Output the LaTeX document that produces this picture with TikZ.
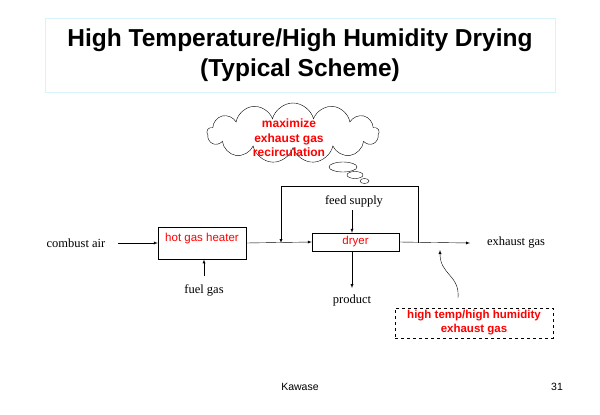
\documentclass[tikz,border=0pt]{standalone}
\usepackage{fontspec}
\setmainfont{Liberation Serif}
\setsansfont{Liberation Sans}
\usetikzlibrary{shapes.symbols}
\tikzstyle{unit} = [draw, minimum height=18pt, font=\sffamily\fontsize{11.5}{13}\selectfont, text=red]
\tikzstyle{lbl} = [font=\fontsize{12.5}{14}\selectfont]

\begin{document}
\begin{tikzpicture}[x=1pt, y=-1pt, flow/.style={-latex}]
    \useasboundingbox (0,0) rectangle (600,415);

    \node[draw=cyan!15, minimum width=510pt, minimum height=74pt, align=center,
          font=\sffamily\bfseries\fontsize{24.5}{30}\selectfont] (title) at (300,55)
          {High Temperature/High Humidity Drying\\(Typical Scheme)};

    \node[cloud, draw, cloud puffs=13, aspect=2.9, minimum width=172pt, minimum height=60pt,
          inner sep=0pt] (idea) at (293,133) {};
    \node[align=center, font=\sffamily\bfseries\fontsize{12}{14.5}\selectfont, text=red] (ideatext) at (289,138)
          {maximize\\exhaust gas\\recirculation};
    \draw (343,167) ellipse (14pt and 5pt);
    \draw (355,175) ellipse (8pt and 3.5pt);
    \draw (364.5,181) ellipse (4.5pt and 2.5pt);

    \node[lbl] (air) at (76,243) {combust air};
    \node[unit, minimum width=88pt, minimum height=32pt, anchor=north] (heater) at (202,227) {};
    \node[font=\sffamily\fontsize{11.5}{13}\selectfont, text=red] (heatertext) at (202,239) {hot gas heater};
    \node[unit, minimum width=87pt] (dryer) at (355.5,242) {dryer};
    \node[lbl] (fuel) at (204,290) {fuel gas};
    \node[lbl] (feed) at (354,201) {feed supply};
    \node[lbl] (product) at (352,300) {product};
    \node[lbl] (exhaust) at (516,243) {exhaust gas};
    \coordinate (mix) at (281,243);
    \coordinate (split) at (418,243);
    \coordinate (tail) at (470,243);

    \draw[flow] (118,243) -- (heater.west |- 0,243);
    \draw[flow] (heater.east |- 0,243) -- (dryer.west);
    \draw[flow] (204,276) -- (heater.south -| 204,0);
    \draw[flow] (352,210) -- (dryer.north -| 352,0);
    \draw[flow] (dryer.south -| 352,0) -- (352,288);
    \draw[flow] (dryer.east) -- (tail);
    \draw[flow] (split) -- (418,186) -- (281,186) -- (mix);

    \node[draw, dashed, minimum width=158pt, minimum height=30pt, align=center,
          font=\sffamily\bfseries\fontsize{11.5}{14}\selectfont, text=red, inner sep=1pt] (note) at (474,323)
          {high temp/high humidity\\exhaust gas};
    \draw[-latex] (458,298) .. controls (460,275) and (440,275) .. (440,250);

    \node[font=\sffamily\fontsize{10.5}{12}\selectfont] (author) at (300,387) {Kawase};
    \node[font=\sffamily\fontsize{10.5}{12}\selectfont] (page) at (557,387) {31};
\end{tikzpicture}
\end{document}
